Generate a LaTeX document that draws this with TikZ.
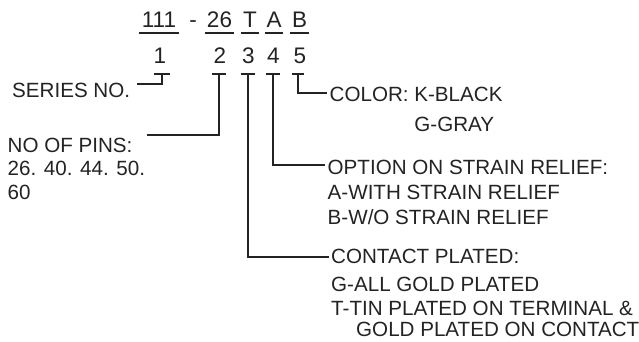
\documentclass[tikz,border=0pt]{standalone}
\usepackage{fontspec}
\setmainfont{Liberation Sans}
\usepackage{tikz}
\usetikzlibrary{positioning,calc}
\definecolor{inkgray}{RGB}{35,35,35}
\tikzset{
  code/.style={inner xsep=1.5pt, inner ysep=0pt, anchor=base,
    font=\fontsize{22.5}{26}\selectfont, text=inkgray},
  digit/.style={inner sep=0pt, anchor=base,
    font=\fontsize{22.5}{26}\selectfont, text=inkgray},
  lbl/.style={inner sep=0pt, anchor=north west, align=left,
    font=\fontsize{20.6}{23.5}\selectfont, text=inkgray},
  conn/.style={line width=1.2pt, color=inkgray},
  uline/.style={line width=1.2pt, color=inkgray}
}

\begin{document}
\begin{tikzpicture}[x=1pt, y=-1pt]
\useasboundingbox (0,0) rectangle (639,341);

%% ── CODE ROW ───────────────────────────────────────────────────────
\node[code, inner xsep=3pt] (c1) at (159,27.5) {111};
\node[code] (dash) at (193,27.5) {-};
\node[code] (c2) at (219.5,27.5) {26};
\node[code] (c3) at (250,27.5) {T};
\node[code] (c4) at (274,27.5) {A};
\node[code] (c5) at (299.5,27.5) {B};

\draw[uline] ([yshift=-5.5pt]c1.base west) -- ([yshift=-5.5pt]c1.base east);
\draw[uline] ([yshift=-5.5pt]c2.base west) -- ([yshift=-5.5pt]c2.base east);
\draw[uline] ([yshift=-5.5pt]c3.base west) -- ([yshift=-5.5pt]c3.base east);
\draw[uline] ([yshift=-5.5pt]c4.base west) -- ([yshift=-5.5pt]c4.base east);
\draw[uline] ([yshift=-5.5pt]c5.base west) -- ([yshift=-5.5pt]c5.base east);

%% ── DIGIT ROW ──────────────────────────────────────────────────────
\node[digit] (d1) at (160,63) {1};
\node[digit] (d2) at (220,63) {2};
\node[digit] (d3) at (248.5,63) {3};
\node[digit] (d4) at (273.5,63) {4};
\node[digit] (d5) at (300,63) {5};

\coordinate (t1) at (162,74);
\coordinate (t2) at (219,74);
\coordinate (t3) at (248,74);
\coordinate (t4) at (273,74);
\coordinate (t5) at (298,74);

%% ── LABELS ─────────────────────────────────────────────────────────
\node[lbl] (series) at (12,82.5) {SERIES NO.};
\node[lbl] (pins)   at (7.5,137.5) {NO OF PINS:\\26. 40. 44. 50.\\60};
\node[lbl] (color)  at (329.5,86.5)
  {COLOR: K-BLACK\\[6.5pt]\phantom{COLOR: }G-GRAY};
\node[lbl] (relief) at (327.5,159.5)
  {OPTION ON STRAIN RELIEF:\\[1.5pt]A-WITH STRAIN RELIEF\\[1.5pt]B-W/O STRAIN RELIEF};
\node[lbl] (plating) at (331,248.5)
  {CONTACT PLATED:\\[5pt]G-ALL GOLD PLATED\\T-TIN PLATED ON TERMINAL \&\\[-2pt]\hspace*{25pt}GOLD PLATED ON CONTACT};

%% ── CONNECTORS ─────────────────────────────────────────────────────
\draw[conn] ([xshift=-8pt]t1) -- ([xshift=8pt]t1)
  (t1) |- ([xshift=7pt,yshift=-1.5pt]series.north east);
\draw[conn] ([xshift=-7pt]t2) -- ([xshift=7pt]t2)
  (t2) |- ([xshift=2pt,yshift=2.5pt]pins.north east);
\draw[conn] ([xshift=-7pt]t3) -- ([xshift=7pt]t3)
  (t3) |- ([xshift=-2pt,yshift=-8.5pt]plating.north west);
\draw[conn] ([xshift=-7pt]t4) -- ([xshift=7pt]t4)
  (t4) |- ([xshift=-3pt,yshift=-5.5pt]relief.north west);
\draw[conn] ([xshift=-6pt]t5) -- ([xshift=6pt]t5)
  (t5) |- ([xshift=-3pt,yshift=-6.5pt]color.north west);

\end{tikzpicture}
\end{document}
